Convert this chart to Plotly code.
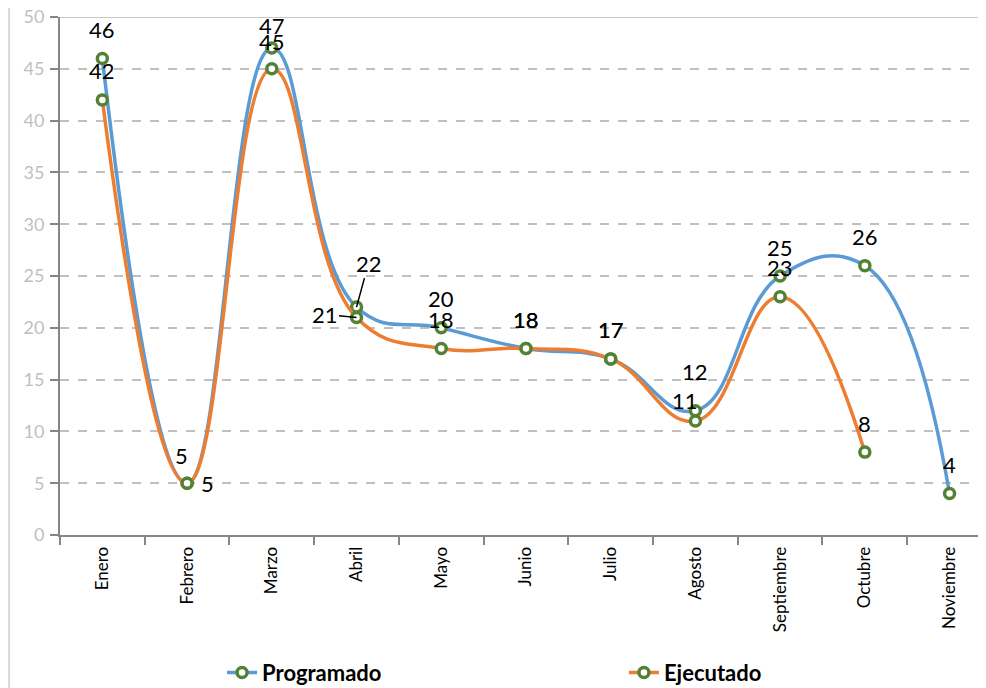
import plotly.graph_objects as go

# data
meses = ["Enero", "Febrero", "Marzo", "Abril", "Mayo", "Junio", "Julio",
         "Agosto", "Septiembre", "Octubre", "Noviembre"]
programado = [46, 5, 47, 22, 20, 18, 17, 12, 25, 26, 4]
ejecutado = [42, 5, 45, 21, 18, 18, 17, 11, 23, 8, None]

FONT = "Lato, 'Open Sans', sans-serif"
AZUL = "#5B9BD5"
NARANJA = "#ED7D31"
VERDE = "#548235"

marker = dict(size=10, color="white", line=dict(color=VERDE, width=3.5))

fig = go.Figure()
fig.add_trace(go.Scatter(
    x=meses, y=programado, name="Programado", legend="legend",
    mode="lines+markers", line=dict(color=AZUL, width=3.5, shape="spline", smoothing=1.25),
    marker=marker,
))
fig.add_trace(go.Scatter(
    x=meses, y=ejecutado, name="Ejecutado", legend="legend2",
    mode="lines+markers", line=dict(color=NARANJA, width=3.5, shape="spline", smoothing=1.25),
    marker=marker,
))

# data labels (default: above the point); a few are nudged like in the original
lbl_font = dict(size=22, color="black", family=FONT)
nudge_prog = {1: (-6, 28), 2: (0, 23), 7: (0, 39)}
nudge_ejec = {1: (20, 0), 2: (0, 27), 7: (-10, 21)}

for i, v in enumerate(programado):
    if i == 3:
        continue
    dx, dy = nudge_prog.get(i, (0, 29))
    fig.add_annotation(x=meses[i], y=v, text=str(v), showarrow=False,
                       xshift=dx, yshift=dy, font=lbl_font)
for i, v in enumerate(ejecutado):
    if v is None or i == 3:
        continue
    dx, dy = nudge_ejec.get(i, (0, 29))
    fig.add_annotation(x=meses[i], y=v, text=str(v), showarrow=False,
                       xshift=dx, yshift=dy, font=lbl_font)

# Abril labels with leader lines
fig.add_annotation(x=meses[3], y=programado[3], text=str(programado[3]),
                   ax=12, ay=-44, showarrow=True, arrowhead=0, arrowwidth=1.5,
                   arrowcolor="black", font=lbl_font)
fig.add_annotation(x=meses[3], y=ejecutado[3], text=str(ejecutado[3]),
                   ax=-32, ay=-3, showarrow=True, arrowhead=0, arrowwidth=1.5,
                   arrowcolor="black", font=lbl_font)

# solid top line and left frame
fig.add_shape(type="line", xref="paper", yref="y", x0=0, x1=1, y0=50, y1=50,
              line=dict(color="#c8c8c8", width=2), layer="below")
fig.add_shape(type="line", xref="paper", yref="paper", x0=-0.055, x1=-0.055,
              y0=-0.3, y1=1.04, line=dict(color="#d9d9d9", width=2))

leg_font = dict(size=22, color="black", family=FONT, weight="bold")
fig.update_layout(
    width=978, height=680,
    margin=dict(l=52, r=0, t=9, b=153, autoexpand=False),
    paper_bgcolor="white", plot_bgcolor="white",
    font=dict(family=FONT, color="black"),
    showlegend=True,
    legend=dict(x=0.175, xanchor="left", y=-0.266, yanchor="middle",
                font=leg_font, bgcolor="rgba(0,0,0,0)"),
    legend2=dict(x=0.609, xanchor="left", y=-0.266, yanchor="middle",
                 font=leg_font, bgcolor="rgba(0,0,0,0)"),
)
fig.update_xaxes(
    type="category", range=[-0.5, 10.43], showgrid=False, automargin=False,
    showline=True, linecolor="#868686", linewidth=2,
    ticks="outside", tickson="boundaries", ticklen=8, tickcolor="#868686", tickwidth=2,
    tickangle=-90, tickfont=dict(size=17, color="black", family=FONT),
    ticklabelstandoff=3,
)
fig.update_yaxes(
    range=[0, 50], dtick=5, showgrid=True, gridcolor="#c0c0c0", gridwidth=1.5,
    griddash="dash", zeroline=False, automargin=False,
    showline=True, linecolor="#868686", linewidth=2,
    ticks="outside", ticklen=8, tickcolor="#868686", tickwidth=2,
    tickfont=dict(size=18, color="#bfbfbf", family=FONT), ticklabelstandoff=2,
    ticklabeloverflow="allow",
)

fig.write_html("out.html")
